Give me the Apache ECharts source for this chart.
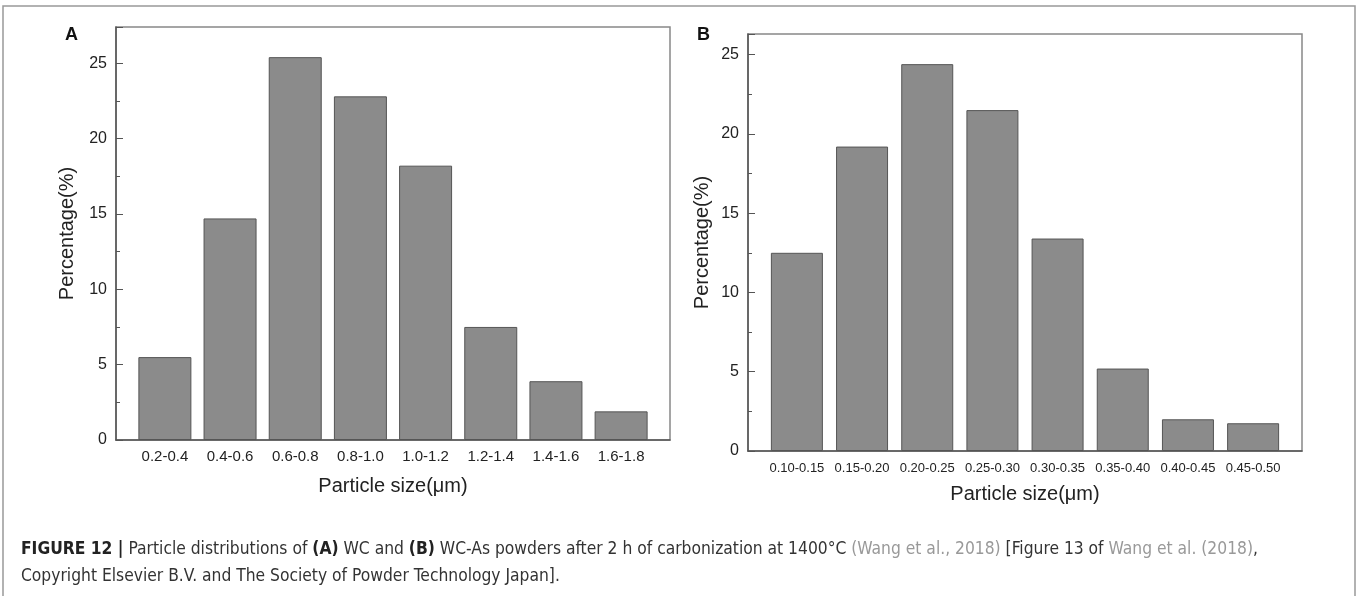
<!DOCTYPE html>
<html>
<head>
    <meta charset="utf-8">
    <title>Particle size distributions</title>
    <script src="https://cdn.jsdelivr.net/npm/echarts@6.0.0/dist/echarts.min.js"></script>
    <style>
        html, body { margin: 0; padding: 0; background: #fff; }
        #chart { width: 1358px; height: 596px; }
    </style>
</head>
<body>
<div id="chart"></div>
<script>
// panel A: WC
var cats_a = ['0.2-0.4', '0.4-0.6', '0.6-0.8', '0.8-1.0', '1.0-1.2', '1.2-1.4', '1.4-1.6', '1.6-1.8'];
var vals_a = [5.5, 14.7, 25.4, 22.8, 18.2, 7.5, 3.9, 1.9];
// panel B: WC-As
var cats_b = ['0.10-0.15', '0.15-0.20', '0.20-0.25', '0.25-0.30', '0.30-0.35', '0.35-0.40', '0.40-0.45', '0.45-0.50'];
var vals_b = [12.5, 19.2, 24.4, 21.5, 13.4, 5.2, 2.0, 1.75];

var font = '"Liberation Sans", Arial, sans-serif';
var capFont = '"Liberation Sans Narrow", "DejaVu Sans Condensed", sans-serif';
var ink = '#222';

function xAxisFor(idx, cats, labelSize, labelMargin, nameGap) {
    return {
        type: 'value', gridIndex: idx,
        min: -0.75, max: cats.length - 0.25,
        minInterval: 1, maxInterval: 1, splitNumber: 8,
        name: 'Particle size(\u03bcm)', nameLocation: 'middle', nameGap: nameGap,
        nameTextStyle: { fontFamily: font, fontSize: 20, color: ink },
        axisLine: { onZero: false, lineStyle: { color: '#555', width: 1.5 } },
        axisTick: { show: false },
        splitLine: { show: false },
        axisLabel: {
            fontFamily: font, fontSize: labelSize, color: ink, margin: labelMargin,
            formatter: function (v) { return Number.isInteger(v) && cats[v] ? cats[v] : ''; }
        }
    };
}

function yAxisFor(idx, max, nameGap) {
    return {
        type: 'value', gridIndex: idx, min: 0, max: max, interval: 5,
        name: 'Percentage(%)', nameLocation: 'middle', nameGap: nameGap,
        nameTextStyle: { fontFamily: font, fontSize: 20, color: ink },
        axisLine: { show: true, onZero: false, lineStyle: { color: '#555', width: 1.5 } },
        axisTick: { show: true, inside: true, length: 7, lineStyle: { color: '#555' } },
        minorTick: { show: true, splitNumber: 2, length: 4, lineStyle: { color: '#555' } },
        splitLine: { show: false },
        axisLabel: { fontFamily: font, fontSize: 16, color: ink, margin: 9, showMaxLabel: false }
    };
}

function barSeries(idx, vals, width) {
    return {
        type: 'bar', xAxisIndex: idx, yAxisIndex: idx,
        barWidth: width,
        data: vals.map(function (v, i) { return [i, v]; }),
        itemStyle: { color: '#8b8b8b', borderColor: '#555', borderWidth: 1 },
        silent: true
    };
}

var chart = echarts.init(document.getElementById('chart'), null, { renderer: 'canvas' });
chart.setOption({
    animation: false,
    backgroundColor: '#fff',
    title: [
        { text: 'A', left: 60, top: 21, textStyle: { fontFamily: font, fontSize: 18, fontWeight: 'bold', color: '#111' } },
        { text: 'B', left: 692, top: 21, textStyle: { fontFamily: font, fontSize: 18, fontWeight: 'bold', color: '#111' } },
        {
            left: 16, top: 531,
            text: '{b|FIGURE 12 |} Particle distributions of {b|(A)} WC and {b|(B)} WC-As powders after 2 h of carbonization at 1400\u00b0C {g|(Wang et al., 2018)} [Figure 13 of {g|Wang et al. (2018)},\nCopyright Elsevier B.V. and The Society of Powder Technology Japan].',
            textStyle: {
                fontFamily: capFont, fontSize: 17.3, fontWeight: 'normal', color: '#333', lineHeight: 27,
                rich: {
                    b: { fontFamily: capFont, fontSize: 17.3, fontWeight: 'bold', color: '#222', lineHeight: 27 },
                    g: { fontFamily: capFont, fontSize: 17.3, fontWeight: 'normal', color: '#999', lineHeight: 27 }
                }
            }
        }
    ],
    graphic: [
        { type: 'rect', shape: { x: 3, y: 6, width: 1352, height: 600 }, style: { fill: 'none', stroke: '#999', lineWidth: 1.5 }, silent: true }
    ],
    grid: [
        { left: 116, top: 27, width: 554, height: 413, show: true, borderColor: '#888', borderWidth: 1.5, containLabel: false },
        { left: 748, top: 34, width: 554, height: 417, show: true, borderColor: '#888', borderWidth: 1.5, containLabel: false }
    ],
    xAxis: [
        xAxisFor(0, cats_a, 15, 9, 36),
        xAxisFor(1, cats_b, 13, 11, 33)
    ],
    yAxis: [
        yAxisFor(0, 27.4, 39),
        yAxisFor(1, 26.3, 36)
    ],
    series: [
        barSeries(0, vals_a, 53),
        barSeries(1, vals_b, 52)
    ]
});
</script>
</body>
</html>
